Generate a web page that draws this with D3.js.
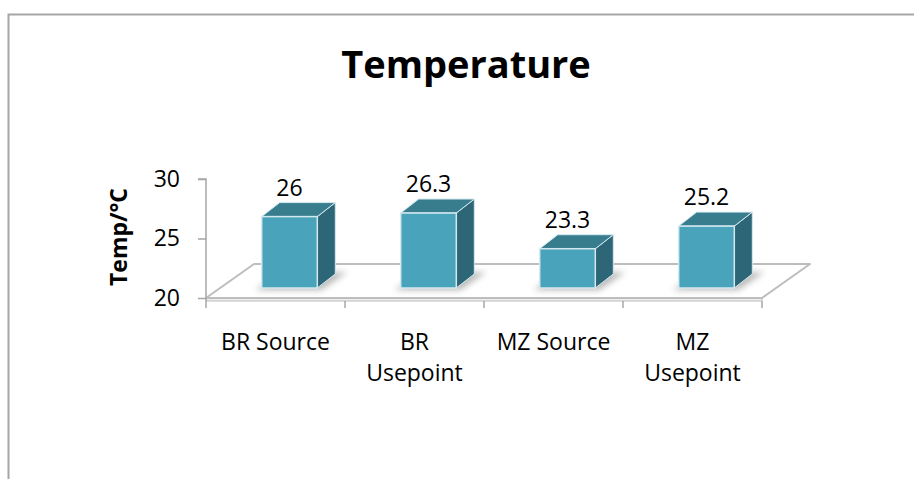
<!DOCTYPE html>
<html>
<head>
<meta charset="utf-8">
<script src="https://cdn.jsdelivr.net/npm/d3@7"></script>
<style>
  html, body { margin: 0; padding: 0; background: #ffffff; }
  svg { display: block; }
  text { font-family: 'Open Sans', 'DejaVu Sans', sans-serif; fill: #000; }
</style>
</head>
<body>
<div id="chart"></div>
<script>
const categories = ['BR Source', 'BR Usepoint', 'MZ Source', 'MZ Usepoint'];
const categoryLabels = [['BR Source'], ['BR', 'Usepoint'], ['MZ Source'], ['MZ', 'Usepoint']];
const temps = [26, 26.3, 23.3, 25.2];
const valueLabels = ['26', '26.3', '23.3', '25.2'];
const yTicks = [20, 25, 30];

const width = 914;
const height = 479;
const margin = { t: 179, r: 152, l: 206, b: 181 };
const fontSize = 23;

// 3d offsets: floor depth, bar front/back depth
const floorDepth = { dx: 48, dy: -34 };
const barFront = { dx: 14, dy: -10 };
const barDepth = { dx: 18, dy: -14 };

const colors = {
  front: '#48a3bb',
  top: '#387d8e',
  side: '#2d6676',
  edge: '#d4e9ef',
  floor: '#bdbdbd',
  border: '#a6a6a6',
};

const element = d3.select('#chart');
const svg = element.append('svg')
  .attr('width', width)
  .attr('height', height)
  .attr('viewBox', [0, 0, width, height])
  .attr('xmlns', 'http://www.w3.org/2000/svg');

const defs = svg.append('defs');
defs.append('filter')
  .attr('id', 'shadow')
  .attr('x', '-50%').attr('y', '-50%').attr('width', '200%').attr('height', '200%')
  .append('feGaussianBlur')
  .attr('stdDeviation', 3);

// outer frame
svg.append('rect')
  .attr('x', 8.5)
  .attr('y', 14.5)
  .attr('width', width)
  .attr('height', height)
  .attr('fill', 'none')
  .attr('stroke', colors.border)
  .attr('stroke-width', 2);

const scaleX = d3.scaleBand()
  .domain(categories)
  .range([margin.l, width - margin.r]);

const scaleY = d3.scaleLinear()
  .domain([20, 30])
  .range([height - margin.b, margin.t]);

const y0 = scaleY(20);
const x0 = scaleX.range()[0];
const x1 = scaleX.range()[1];

// title
svg.append('text')
  .attr('x', 466)
  .attr('y', 78)
  .attr('text-anchor', 'middle')
  .attr('font-size', 38)
  .attr('font-weight', 700)
  .text('Temperature');

// floor
const floor = svg.append('g');
floor.append('path')
  .attr('d', `M${x0},${y0} L${x1},${y0} L${x1},${y0 + 3} L${x0},${y0 + 3} Z`)
  .attr('fill', '#eeeeee')
  .attr('stroke', colors.floor)
  .attr('stroke-width', 1);
floor.append('path')
  .attr('d', `M${x0},${y0} L${x1},${y0} L${x1 + floorDepth.dx},${y0 + floorDepth.dy} L${x0 + floorDepth.dx},${y0 + floorDepth.dy} Z`)
  .attr('fill', '#ffffff')
  .attr('stroke', colors.floor)
  .attr('stroke-width', 2)
  .attr('stroke-linejoin', 'round');

// y axis
const axisLeft = d3.axisLeft(scaleY)
  .tickValues(yTicks)
  .tickSize(8)
  .tickPadding(18);

svg.append('g')
  .attr('transform', `translate(${x0},0)`)
  .call(axisLeft)
  .call(g => g.select('.domain').attr('stroke', colors.border).attr('stroke-width', 1.5)
    .attr('d', `M-8,${scaleY(30)}H0V${y0 + 3}`))
  .call(g => g.selectAll('.tick line').attr('stroke', colors.border).attr('stroke-width', 1.5))
  .call(g => g.selectAll('.tick text')
    .attr('font-size', fontSize)
    .attr('font-family', null)
    .attr('fill', '#111'));

// x axis ticks below floor
const xTickVals = categories.map(c => scaleX(c)).concat([x1]);
svg.append('g')
  .selectAll('line')
  .data(xTickVals)
  .join('line')
  .attr('x1', d => d)
  .attr('x2', d => d)
  .attr('y1', y0 + 3)
  .attr('y2', y0 + 10)
  .attr('stroke', colors.border)
  .attr('stroke-width', 1.5);

// y axis title
svg.append('text')
  .attr('transform', `translate(127,237) rotate(-90)`)
  .attr('text-anchor', 'middle')
  .attr('font-size', 23)
  .attr('font-weight', 700)
  .text('Temp/\u00B0C');

// bars
const barW = scaleX.bandwidth() * 0.4;
const bars = categories.map((c, i) => {
  const fx = scaleX(c) + (scaleX.bandwidth() - barW) / 2 + barFront.dx;
  const fy = y0 + barFront.dy;
  const ty = scaleY(temps[i]) + barFront.dy;
  return { c, i, fx, fy, ty };
});

const barG = svg.append('g')
  .selectAll('g')
  .data(bars)
  .join('g');

// soft shadow on the floor
barG.append('path')
  .attr('d', d => `M${d.fx - 6},${d.fy + 2} L${d.fx + barW + 4},${d.fy + 2} L${d.fx + barW + barDepth.dx + 12},${d.fy + barDepth.dy - 2} L${d.fx + barDepth.dx},${d.fy + barDepth.dy} Z`)
  .attr('fill', '#8a8a8a')
  .attr('opacity', 0.6)
  .attr('filter', 'url(#shadow)');

// side
barG.append('path')
  .attr('d', d => `M${d.fx + barW},${d.fy} L${d.fx + barW + barDepth.dx},${d.fy + barDepth.dy} L${d.fx + barW + barDepth.dx},${d.ty + barDepth.dy} L${d.fx + barW},${d.ty} Z`)
  .attr('fill', colors.side)
  .attr('stroke', colors.edge)
  .attr('stroke-width', 1)
  .attr('stroke-linejoin', 'round');

// top
barG.append('path')
  .attr('d', d => `M${d.fx},${d.ty} L${d.fx + barW},${d.ty} L${d.fx + barW + barDepth.dx},${d.ty + barDepth.dy} L${d.fx + barDepth.dx},${d.ty + barDepth.dy} Z`)
  .attr('fill', colors.top)
  .attr('stroke', colors.edge)
  .attr('stroke-width', 1)
  .attr('stroke-linejoin', 'round');

// front
barG.append('rect')
  .attr('x', d => d.fx)
  .attr('y', d => d.ty)
  .attr('width', barW)
  .attr('height', d => d.fy - d.ty)
  .attr('fill', colors.front)
  .attr('stroke', colors.edge)
  .attr('stroke-width', 1.5);

// value labels
barG.append('text')
  .attr('x', d => d.fx + barW / 2)
  .attr('y', d => d.ty + barDepth.dy - 7)
  .attr('text-anchor', 'middle')
  .attr('font-size', fontSize)
  .attr('fill', '#111')
  .text(d => valueLabels[d.i]);

// category labels
svg.append('g')
  .selectAll('text')
  .data(categories)
  .join('text')
  .attr('x', d => scaleX(d) + scaleX.bandwidth() / 2)
  .attr('y', 350)
  .attr('text-anchor', 'middle')
  .attr('font-size', fontSize)
  .attr('fill', '#111')
  .each(function (d, i) {
    const t = d3.select(this);
    categoryLabels[i].forEach((line, j) => {
      t.append('tspan')
        .attr('x', scaleX(d) + scaleX.bandwidth() / 2)
        .attr('dy', j === 0 ? 0 : 31)
        .text(line);
    });
  });
</script>
</body>
</html>
